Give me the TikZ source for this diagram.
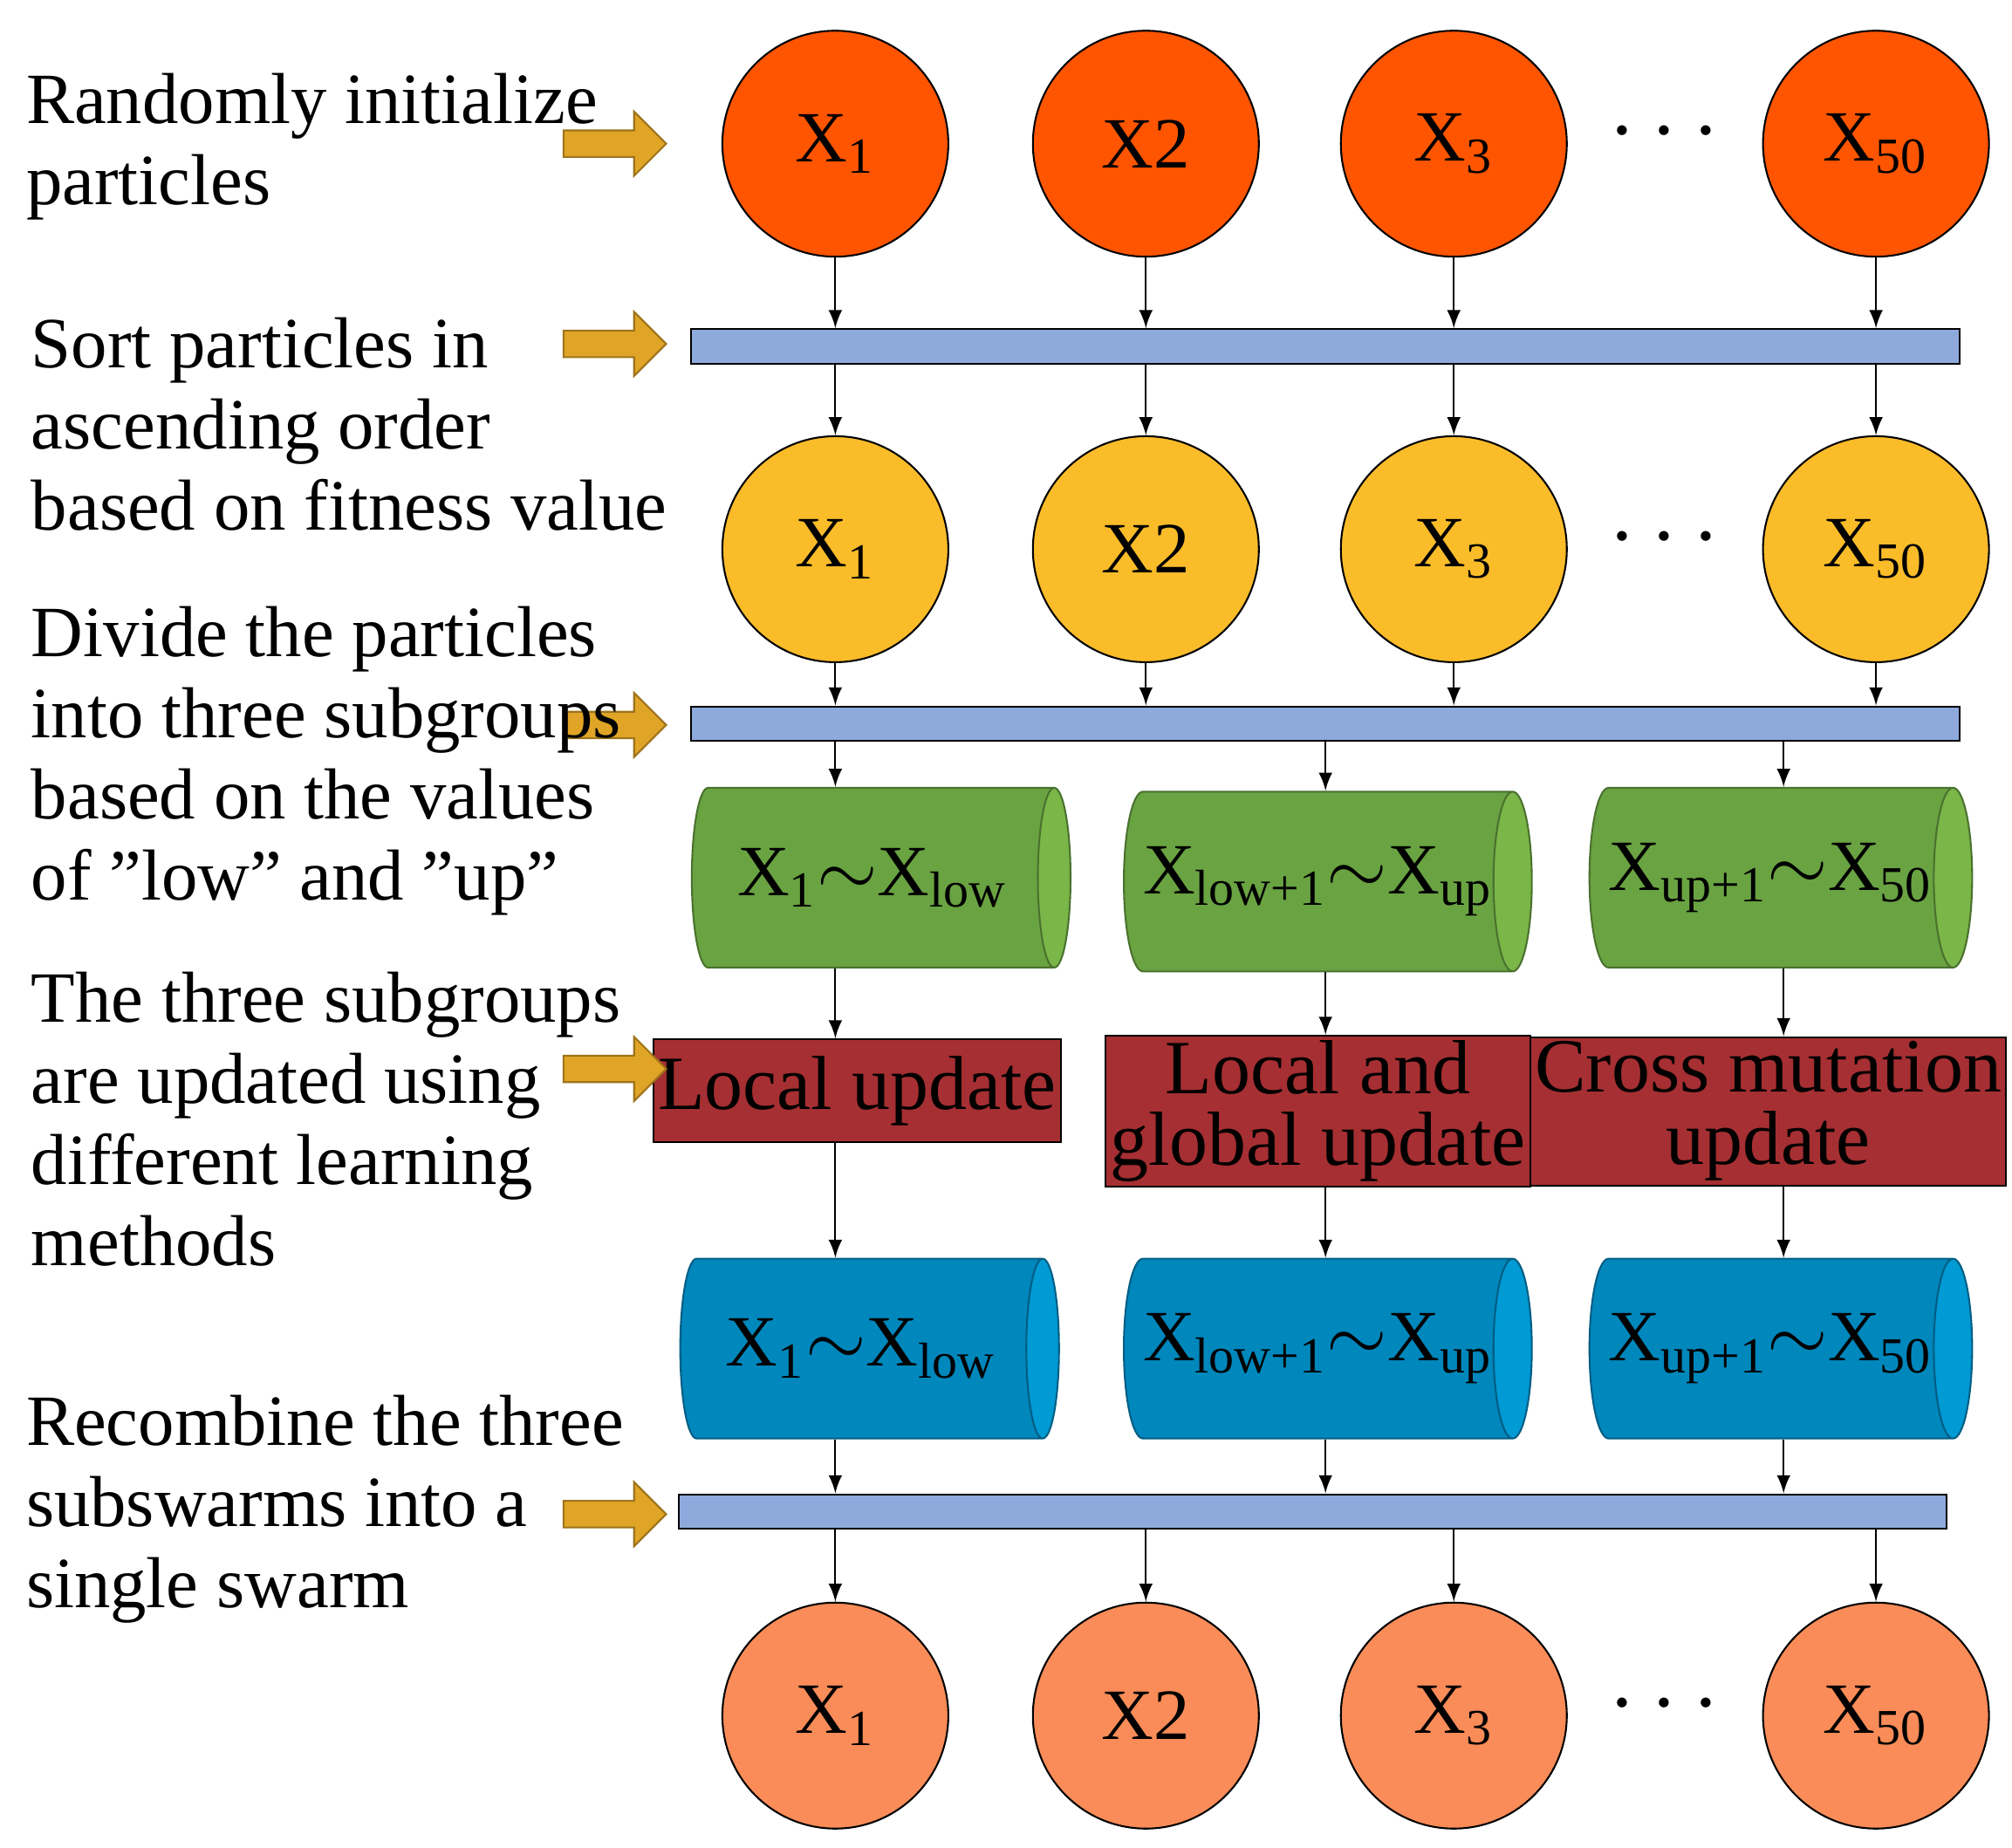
\documentclass[tikz,border=0pt]{standalone}
\usepackage{fontspec}
\setmainfont{Liberation Serif}
\usetikzlibrary{shapes.geometric,shapes.arrows,positioning}
\definecolor{redorange}{HTML}{FF5500}
\definecolor{gold}{HTML}{FBBC2A}
\definecolor{salmon}{HTML}{F98C58}
\definecolor{barblue}{HTML}{8EA9DB}
\definecolor{grnA}{HTML}{6AA342}
\definecolor{grnB}{HTML}{7AB648}
\definecolor{bluA}{HTML}{0087BC}
\definecolor{bluB}{HTML}{009AD4}
\definecolor{boxred}{HTML}{A52F32}
\definecolor{arrgold}{HTML}{E0A526}
\tikzset{
  particle/.style={circle,draw=black,fill=#1,minimum size=1.76cm,inner sep=0pt,font=\fontsize{16}{16}\selectfont},
  bar/.style={rectangle,draw=black,fill=barblue,minimum height=0.27cm,inner sep=0pt},
  group/.style={cylinder,draw=#1A!70!black,cylinder uses custom fill,cylinder body fill=#1A,cylinder end fill=#1B,
    shape aspect=0.55,minimum height=2.95cm,minimum width=1.4cm,inner sep=0pt,font=\fontsize{16}{16}\selectfont},
  method/.style={rectangle,draw=black,fill=boxred,align=center,inner sep=1pt,font=\fontsize{17}{16}\selectfont},
  stagearrow/.style={single arrow,draw=arrgold!70!black,fill=arrgold,minimum height=0.8cm,minimum width=0.5cm,
    single arrow head extend=0.06cm,inner sep=1pt},
  note/.style={anchor=north west,align=left,font=\fontsize{16}{18}\selectfont},
  flow/.style={-latex}
}
\begin{document}
\begin{tikzpicture}[x=0.01cm,y=-0.01cm]
\useasboundingbox (0,0) rectangle (1568,1440);
% particle rows
\foreach \r/\y/\c in {a/112/redorange,b/428/gold,c/1337/salmon}{
  \node[particle=\c] (\r1) at (651,\y) {X\textsubscript{1}};
  \node[particle=\c] (\r2) at (893,\y) {X2};
  \node[particle=\c] (\r3) at (1133,\y) {X\textsubscript{3}};
  \node[particle=\c] (\r4) at (1462,\y) {X\textsubscript{50}};
  \node[font=\fontsize{20}{20}\selectfont] (\r d) at (1297,\y-8) {$\cdots$};
}
% bars
\node[bar,minimum width=9.88cm] (bar1) at (1033,270) {};
\node[bar,minimum width=9.88cm] (bar2) at (1033,564) {};
\node[bar,minimum width=9.88cm] (bar3) at (1023,1178) {};
% subgroups
\node[group=grn] (g1) at (680,684) {X\textsubscript{1}$\sim$X\textsubscript{low}\hspace{4mm}};
\node[group=grn] (g2) at (1027,687) {X\textsubscript{low+1}$\sim$X\textsubscript{up}\hspace{4mm}};
\node[group=grn] (g3) at (1380,684) {X\textsubscript{up+1}$\sim$X\textsubscript{50}\hspace{4mm}};
\node[method,minimum width=2.78cm,minimum height=0.8cm] (m1) at (668,850) {Local update};
\node[method,minimum width=2.95cm,minimum height=1.11cm] (m2) at (1027,866) {Local and\\global update};
\node[method,minimum width=3.19cm,minimum height=1.11cm] (m3) at (1378,866) {Cross mutation\\update};
\node[group=blu] (h1) at (671,1051) {X\textsubscript{1}$\sim$X\textsubscript{low}\hspace{4mm}};
\node[group=blu] (h2) at (1027,1051) {X\textsubscript{low+1}$\sim$X\textsubscript{up}\hspace{4mm}};
\node[group=blu] (h3) at (1380,1051) {X\textsubscript{up+1}$\sim$X\textsubscript{50}\hspace{4mm}};
% connectors
\foreach \i in {1,...,4}{
  \draw[flow] (a\i.south) -- (bar1.north -| a\i);
  \draw[flow] (bar1.south -| a\i) -- (b\i.north);
  \draw[flow] (b\i.south) -- (bar2.north -| b\i);
  \draw[flow] (bar3.south -| c\i) -- (c\i.north);
}
\foreach \i/\x in {1/651,2/1033,3/1390}{
  \coordinate (x\i) at (\x,0);
  \draw[flow] (bar2.south -| x\i) -- (g\i.north -| x\i);
  \draw[flow] (g\i.south -| x\i) -- (m\i.north -| x\i);
  \draw[flow] (m\i.south -| x\i) -- (h\i.north -| x\i);
  \draw[flow] (h\i.south -| x\i) -- (bar3.north -| x\i);
}
% stage notes
\foreach \n/\y in {s1/112,s2/268,s3/565,s4/833,s5/1180}
  \node[stagearrow] (\n) at (474,\y) {};
\node[note] (t1) at (8,45) {Randomly initialize\\particles};
\node[note] (t2) at (12,235) {Sort particles in\\ascending order\\based on fitness value};
\node[note] (t3) at (12,460) {Divide the particles\\into three subgroups\\based on the values\\of "low" and "up"};
\node[note] (t4) at (12,745) {The three subgroups\\are updated using\\different learning\\methods};
\node[note] (t5) at (8,1075) {Recombine the three\\subswarms into a\\single swarm};
\end{tikzpicture}
\end{document}
